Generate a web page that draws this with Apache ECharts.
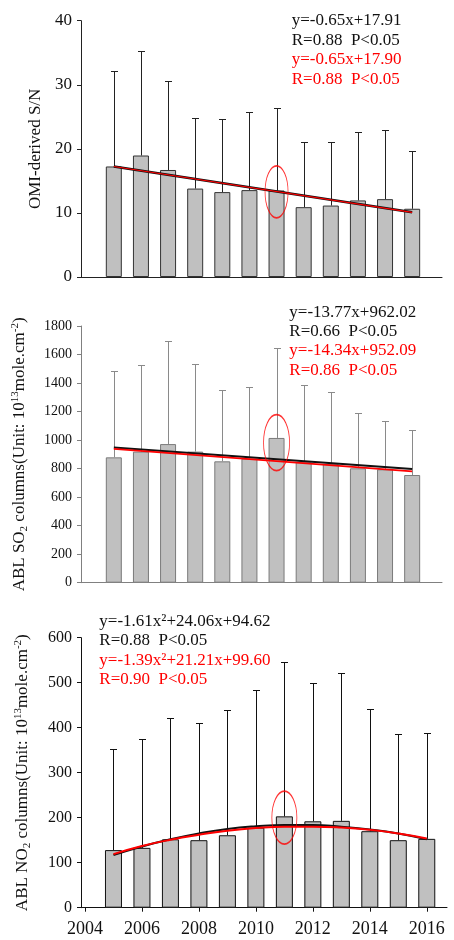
<!DOCTYPE html>
<html>
<head>
<meta charset="utf-8">
<script src="https://cdn.jsdelivr.net/npm/echarts@6/dist/echarts.min.js"></script>
<style>html,body{margin:0;padding:0;background:#fff;}#c{width:454px;height:940px;}</style>
</head>
<body>
<div id="c"></div>
<script>
// ---- data ----
const years = [2005, 2006, 2007, 2008, 2009, 2010, 2011, 2012, 2013, 2014, 2015, 2016];
const xTickLabels = [2004, 2006, 2008, 2010, 2012, 2014, 2016];

const snMean = [17.25, 18.96, 16.7, 13.8, 13.25, 13.56, 13.5, 10.9, 11.15, 11.95, 12.15, 10.65];
const snTop  = [32.2, 35.3, 30.6, 24.8, 24.7, 25.8, 26.3, 21.0, 21.0, 22.7, 22.9, 19.7];
const snFitBlack = [[2005, 17.26], [2016, 10.11]];
const snFitRed   = [[2005, 17.25], [2016, 10.10]];
const snMark = [[2011, 13.3]];

const so2Mean = [879, 919, 972, 919, 851, 870, 1015, 845, 832, 802, 795, 755];
const so2Top  = [1487, 1524, 1692, 1531, 1353, 1372, 1643, 1386, 1335, 1187, 1134, 1068];
const so2FitBlack = [[2005, 948], [2016, 797]];
const so2FitRed   = [[2005, 938], [2016, 780]];
const so2Mark = [[2011, 982]];

const no2Mean = [128, 133, 152, 150, 161, 178, 203, 192, 193, 170, 150, 153];
const no2Top  = [352, 374, 421, 410, 440, 483, 545, 500, 521, 441, 387, 388];
const no2FitBlack = [117, 136, 152, 165, 175, 181, 184, 184, 180, 174, 165, 152];
const no2FitRed   = [119, 137, 151, 162, 171, 177, 180, 180, 178, 173, 165, 154];
const no2Mark = [[2011, 200]];

const snText  = ['y=-0.65x+17.91', 'R=0.88  P<0.05', 'y=-0.65x+17.90', 'R=0.88  P<0.05'];
const so2Text = ['y=-13.77x+962.02', 'R=0.66  P<0.05', 'y=-14.34x+952.09', 'R=0.86  P<0.05'];
const no2Text = ['y=-1.61x\u00B2+24.06x+94.62', 'R=0.88  P<0.05', 'y=-1.39x\u00B2+21.21x+99.60', 'R=0.90  P<0.05'];

// ---- chart ----
const FONT = 'Liberation Serif';
const chart = echarts.init(document.getElementById('c'), null, {renderer: 'canvas'});
const plain = function (v) { return String(v); };

function pairs(vals) { return years.map((y, i) => [y, vals[i]]); }
function errData(mean, top) { return years.map((y, i) => [y, mean[i], top[i]]); }

function errSeries(idx, data, color) {
  return {
    type: 'custom', xAxisIndex: idx, yAxisIndex: idx, z: 3,
    data: data, encode: {x: 0, y: [1, 2]},
    renderItem: function (params, api) {
      const p0 = api.coord([api.value(0), api.value(1)]);
      const p1 = api.coord([api.value(0), api.value(2)]);
      const x = Math.round(p0[0]) + 0.5;
      const yt = Math.round(p1[1]) + 0.5;
      const st = {stroke: color, lineWidth: 1};
      return {type: 'group', children: [
        {type: 'line', shape: {x1: x, y1: p0[1], x2: x, y2: yt}, style: st},
        {type: 'line', shape: {x1: x - 3.5, y1: yt, x2: x + 3.5, y2: yt}, style: st}
      ]};
    }
  };
}
function barSeries(idx, data, width, border) {
  return {type: 'bar', xAxisIndex: idx, yAxisIndex: idx, data: data, barWidth: width, z: 2,
    itemStyle: {color: '#c0c0c0', borderColor: border, borderWidth: 1}};
}
function lineSeries(idx, data, color, w, smooth) {
  return {type: 'line', xAxisIndex: idx, yAxisIndex: idx, data: data, symbol: 'none', smooth: smooth, z: 5,
    lineStyle: {color: color, width: w}};
}
function markSeries(idx, data, size) {
  return {type: 'scatter', xAxisIndex: idx, yAxisIndex: idx, data: data, symbol: 'circle', symbolSize: size, z: 6,
    itemStyle: {color: 'rgba(0,0,0,0)', borderColor: '#ff0000', borderWidth: 1.2}};
}
function textBlock(lines, x, y0, step) {
  return lines.map((t, i) => ({
    type: 'text', x: x, y: y0 + i * step, z: 10,
    style: {text: t, fill: i < 2 ? '#111' : '#ff0000', fontSize: 17, fontFamily: FONT, verticalAlign: 'middle', align: 'left'}
  }));
}
const richName = {
  n: {fontSize: 17, fontFamily: FONT, color: '#111', lineHeight: 20, verticalAlign: 'middle'},
  sup: {fontSize: 11, fontFamily: FONT, color: '#111', lineHeight: 11, verticalAlign: 'top'},
  sub: {fontSize: 11, fontFamily: FONT, color: '#111', lineHeight: 11, verticalAlign: 'bottom'}
};
function yAx(idx, max, interval, labelSize, color, name, gap) {
  return {
    type: 'value', gridIndex: idx, min: 0, max: max, interval: interval,
    name: name, nameLocation: 'middle', nameGap: gap,
    nameTextStyle: {fontSize: 17, fontFamily: FONT, color: '#111', rich: richName},
    axisLine: {show: true, lineStyle: {color: color, width: 1}},
    axisTick: {show: true, length: 4, lineStyle: {color: color}},
    axisLabel: {fontSize: labelSize, fontFamily: FONT, color: '#111', margin: 9, formatter: plain},
    splitLine: {show: false}
  };
}
function xAxTop(idx, color) {
  return {type: 'value', gridIndex: idx, min: 2003.79, max: 2017.1,
    axisLine: {show: true, onZero: false, lineStyle: {color: color}},
    axisTick: {show: false}, axisLabel: {show: false}, splitLine: {show: false}};
}

const option = {
  animation: false,
  backgroundColor: '#fff',
  grid: [
    {left: 81, top: 20.7, width: 361, height: 256.3},
    {left: 81, top: 326, width: 361, height: 256.7},
    {left: 81, top: 637.7, width: 366, height: 270}
  ],
  xAxis: [
    xAxTop(0, '#222'),
    xAxTop(1, '#808080'),
    {type: 'value', gridIndex: 2, min: 2003.86, max: 2016.71,
      axisLine: {show: true, onZero: false, lineStyle: {color: '#111'}},
      axisTick: {show: true, length: 4, customValues: xTickLabels, lineStyle: {color: '#111'}},
      axisLabel: {show: true, customValues: xTickLabels, fontSize: 18, fontFamily: FONT, color: '#111', margin: 13, formatter: plain},
      splitLine: {show: false}}
  ],
  yAxis: [
    yAx(0, 40, 10, 17, '#222', 'OMI-derived S/N', 36),
    yAx(1, 1800, 200, 14, '#808080', '{n|ABL SO}{sub|2}{n| columns(Unit: 10}{sup|13}{n|mole.cm}{sup|-2}{n|)}', 51),
    yAx(2, 600, 100, 16, '#111', '{n|ABL NO}{sub|2}{n| columns(Unit: 10}{sup|13}{n|mole.cm}{sup|-2}{n|)}', 48)
  ],
  series: [
    barSeries(0, pairs(snMean), 16, '#333'),
    errSeries(0, errData(snMean, snTop), '#222'),
    lineSeries(0, snFitBlack, '#111', 2.5, false),
    lineSeries(0, snFitRed, '#ff0000', 1.2, false),
    markSeries(0, snMark, [23, 52]),

    barSeries(1, pairs(so2Mean), 16, '#7a7a7a'),
    errSeries(1, errData(so2Mean, so2Top), '#8a8a8a'),
    lineSeries(1, so2FitBlack, '#111', 2, false),
    lineSeries(1, so2FitRed, '#ff0000', 1.8, false),
    markSeries(1, so2Mark, [26, 56]),

    barSeries(2, pairs(no2Mean), 17, '#111'),
    errSeries(2, errData(no2Mean, no2Top), '#111'),
    lineSeries(2, pairs(no2FitBlack), '#111', 2, true),
    lineSeries(2, pairs(no2FitRed), '#ff0000', 2, true),
    markSeries(2, no2Mark, [25, 53])
  ],
  graphic: [].concat(
    textBlock(snText, 291.7, 20.5, 19.7),
    textBlock(so2Text, 289.3, 312.5, 19.2),
    textBlock(no2Text, 99.3, 621.5, 19.5)
  )
};
chart.setOption(option);
</script>
</body>
</html>
